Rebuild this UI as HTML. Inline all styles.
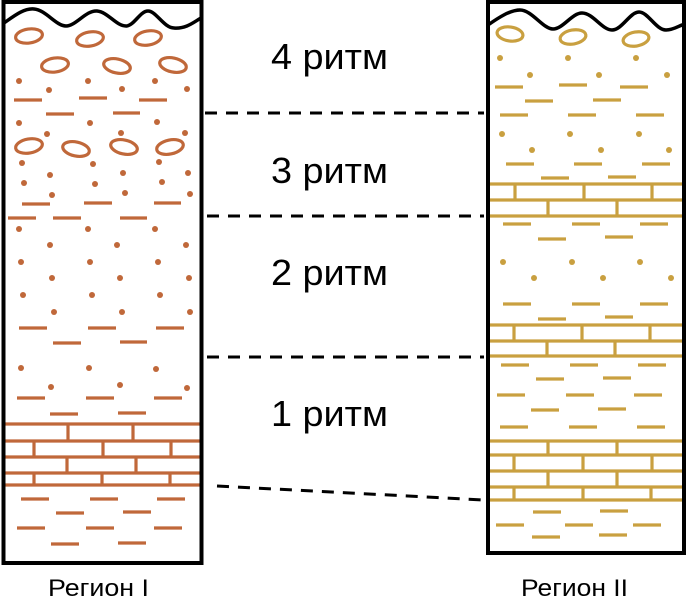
<!DOCTYPE html>
<html><head><meta charset="utf-8"><style>
html,body{margin:0;padding:0;background:#fff;}
svg{display:block;}
text{font-family:"Liberation Sans",sans-serif;fill:#000;}
</style></head><body>
<svg width="688" height="598" viewBox="0 0 688 598" xmlns="http://www.w3.org/2000/svg">
<!-- Left column -->
<g fill="none" stroke="#c0683a" stroke-width="3.2" stroke-linecap="butt">
  <ellipse cx="29" cy="36" rx="13.5" ry="7" transform="rotate(-8 29 36)"/>
  <ellipse cx="90" cy="39" rx="13.5" ry="7" transform="rotate(-10 90 39)"/>
  <ellipse cx="148" cy="38" rx="13.5" ry="7" transform="rotate(-10 148 38)"/>
  <ellipse cx="55" cy="65" rx="13.5" ry="7" transform="rotate(-8 55 65)"/>
  <ellipse cx="117" cy="66" rx="13.5" ry="7" transform="rotate(12 117 66)"/>
  <ellipse cx="173" cy="65" rx="13.5" ry="7" transform="rotate(12 173 65)"/>
  <ellipse cx="29" cy="146" rx="13.5" ry="7" transform="rotate(-10 29 146)"/>
  <ellipse cx="76" cy="149" rx="13.5" ry="7" transform="rotate(12 76 149)"/>
  <ellipse cx="124" cy="147" rx="13.5" ry="7" transform="rotate(12 124 147)"/>
  <ellipse cx="170" cy="147" rx="13.5" ry="7" transform="rotate(-12 170 147)"/>
  <path d="M14 100h28M79 98h28M139 100h28M46 114h28M113 113h27
  M22 204h28M84 203h28M154 203h27M8 218h28M53 218h28M120 218h27
  M19 328h28M88 328h28M156 328h28M53 343h28M120 342h27
  M17 398h28M86 398h28M154 398h28M50 414h28M118 413h28
  M21 499h28M90 499h28M157 499h28M56 513h28M123 512h28
  M17 528h28M86 528h28M154 528h28M51 544h28M118 543h28"/>
  <path d="M3 424h197M3 441h197M3 457h197M3 473h197M3 485h197
  M68 424v17M133 424v17M34 441v16M103 441v16M171 441v16M67 457v16M136 457v16M34 473v12M102 473v12M170 473v12"/>
</g>
<g fill="#c0683a">
  <circle cx="19" cy="81" r="3"/><circle cx="88" cy="81" r="3"/><circle cx="155" cy="81" r="3"/>
  <circle cx="49" cy="90" r="3"/><circle cx="122" cy="89" r="3"/><circle cx="187" cy="89" r="3"/>
  <circle cx="19" cy="123" r="3"/><circle cx="90" cy="123" r="3"/><circle cx="157" cy="122" r="3"/>
  <circle cx="47" cy="134" r="3"/><circle cx="121" cy="133" r="3"/><circle cx="185" cy="133" r="3"/>
  <circle cx="22" cy="163" r="3"/><circle cx="93" cy="164" r="3"/><circle cx="159" cy="162" r="3"/>
  <circle cx="50" cy="175" r="3"/><circle cx="123" cy="173" r="3"/><circle cx="188" cy="173" r="3"/>
  <circle cx="24" cy="183" r="3"/><circle cx="95" cy="184" r="3"/><circle cx="162" cy="182" r="3"/>
  <circle cx="52" cy="195" r="3"/><circle cx="125" cy="193" r="3"/><circle cx="190" cy="194" r="3"/>
  <circle cx="19" cy="229" r="3"/><circle cx="88" cy="229" r="3"/><circle cx="155" cy="229" r="3"/>
  <circle cx="50" cy="245" r="3"/><circle cx="117" cy="245" r="3"/><circle cx="186" cy="245" r="3"/>
  <circle cx="21" cy="262" r="3"/><circle cx="90" cy="262" r="3"/><circle cx="158" cy="262" r="3"/>
  <circle cx="52" cy="278" r="3"/><circle cx="120" cy="278" r="3"/><circle cx="189" cy="278" r="3"/>
  <circle cx="23" cy="295" r="3"/><circle cx="92" cy="295" r="3"/><circle cx="160" cy="295" r="3"/>
  <circle cx="54" cy="312" r="3"/><circle cx="122" cy="312" r="3"/><circle cx="190" cy="312" r="3"/>
  <circle cx="21" cy="368" r="3"/><circle cx="89" cy="368" r="3"/><circle cx="156" cy="369" r="3"/>
  <circle cx="51" cy="387" r="3"/><circle cx="120" cy="385" r="3"/><circle cx="187" cy="388" r="3"/>
</g>
<rect x="3.5" y="2" width="198" height="561" fill="none" stroke="#000" stroke-width="4"/>
<path d="M4 23 C14 16 24 8 34 9 C46 10 56 26 66 26 C76 26 86 10 97 11 C108 12 116 26 126 26 C134 26 140 11 148 11 C156 11 164 28 174 28 C186 29 194 22 201 18" fill="none" stroke="#000" stroke-width="3.5"/>

<!-- Right column -->
<g fill="none" stroke="#c9a040" stroke-width="3.2">
  <ellipse cx="510" cy="34" rx="13" ry="7" transform="rotate(8 510 34)"/>
  <ellipse cx="573" cy="37" rx="13" ry="7" transform="rotate(-10 573 37)"/>
  <ellipse cx="636" cy="39" rx="13" ry="7" transform="rotate(-10 636 39)"/>
  <path d="M495 87h28M559 85h28M620 87h28M525 101h28M593 100h28M500 115h28M568 115h28M636 115h28
  M506 164h28M574 164h28M642 164h28M541 178h28M608 177h28
  M503 224h28M572 224h28M640 224h28M538 239h28M605 237h28
  M503 304h28M572 304h28M640 304h28M538 319h28M605 317h28
  M501 365h28M570 365h28M638 365h28M536 379h28M603 378h28
  M497 395h28M566 395h28M634 395h28M531 410h28M598 409h28
  M500 427h28M569 427h28M637 427h28
  M533 512h28M600 511h28M496 525h28M565 525h28M633 525h28M532 537h28M599 535h28"/>
  <path d="M488 184h197M488 200h197M488 216h197
  M515 184v16M584 184v16M652 184v16M548 200v16M617 200v16
  M487 325h197M487 341h197M487 356h197
  M514 325v16M582 325v16M650 325v16M547 341v15M615 341v15
  M488 441h197M488 455h197M488 471h197M488 487h197M488 500h197
  M548 441v14M617 441v14M514 455v16M583 455v16M652 455v16M548 471v16M617 471v16M514 487v13M583 487v13M651 487v13"/>
</g>
<g fill="#c9a040">
  <circle cx="500" cy="58" r="3"/><circle cx="568" cy="58" r="3"/><circle cx="636" cy="58" r="3"/>
  <circle cx="530" cy="75" r="3"/><circle cx="599" cy="75" r="3"/><circle cx="667" cy="75" r="3"/>
  <circle cx="502" cy="134" r="3"/><circle cx="570" cy="134" r="3"/><circle cx="639" cy="134" r="3"/>
  <circle cx="532" cy="150" r="3"/><circle cx="601" cy="150" r="3"/><circle cx="669" cy="150" r="3"/>
  <circle cx="503" cy="262" r="3"/><circle cx="572" cy="262" r="3"/><circle cx="640" cy="262" r="3"/>
  <circle cx="534" cy="278" r="3"/><circle cx="603" cy="278" r="3"/><circle cx="671" cy="278" r="3"/>
</g>
<rect x="488" y="2" width="196" height="551" fill="none" stroke="#000" stroke-width="4"/>
<path d="M488 25 C498 18 510 10 520 10 C532 10 543 29 553 29 C563 29 572 13 582 13 C593 13 602 30 612 30 C622 30 630 12 639 12 C648 12 656 30 666 30 C674 30 680 25 685 24" fill="none" stroke="#000" stroke-width="3.5"/>

<!-- dashed lines -->
<g stroke="#000" stroke-width="3" stroke-dasharray="12 9" fill="none">
  <path d="M205 113H484"/>
  <path d="M207 216H484"/>
  <path d="M207 357H484"/>
  <path d="M217 486L484 500"/>
</g>

<text x="271" y="69" font-size="36" textLength="117" lengthAdjust="spacingAndGlyphs">4 ритм</text>
<text x="271" y="183" font-size="36" textLength="117" lengthAdjust="spacingAndGlyphs">3 ритм</text>
<text x="271" y="285" font-size="36" textLength="117" lengthAdjust="spacingAndGlyphs">2 ритм</text>
<text x="271" y="426" font-size="36" textLength="117" lengthAdjust="spacingAndGlyphs">1 ритм</text>
<text x="48" y="596" font-size="24" textLength="101" lengthAdjust="spacingAndGlyphs">Регион I</text>
<text x="521" y="596" font-size="24" textLength="107" lengthAdjust="spacingAndGlyphs">Регион II</text>
</svg>
</body></html>
